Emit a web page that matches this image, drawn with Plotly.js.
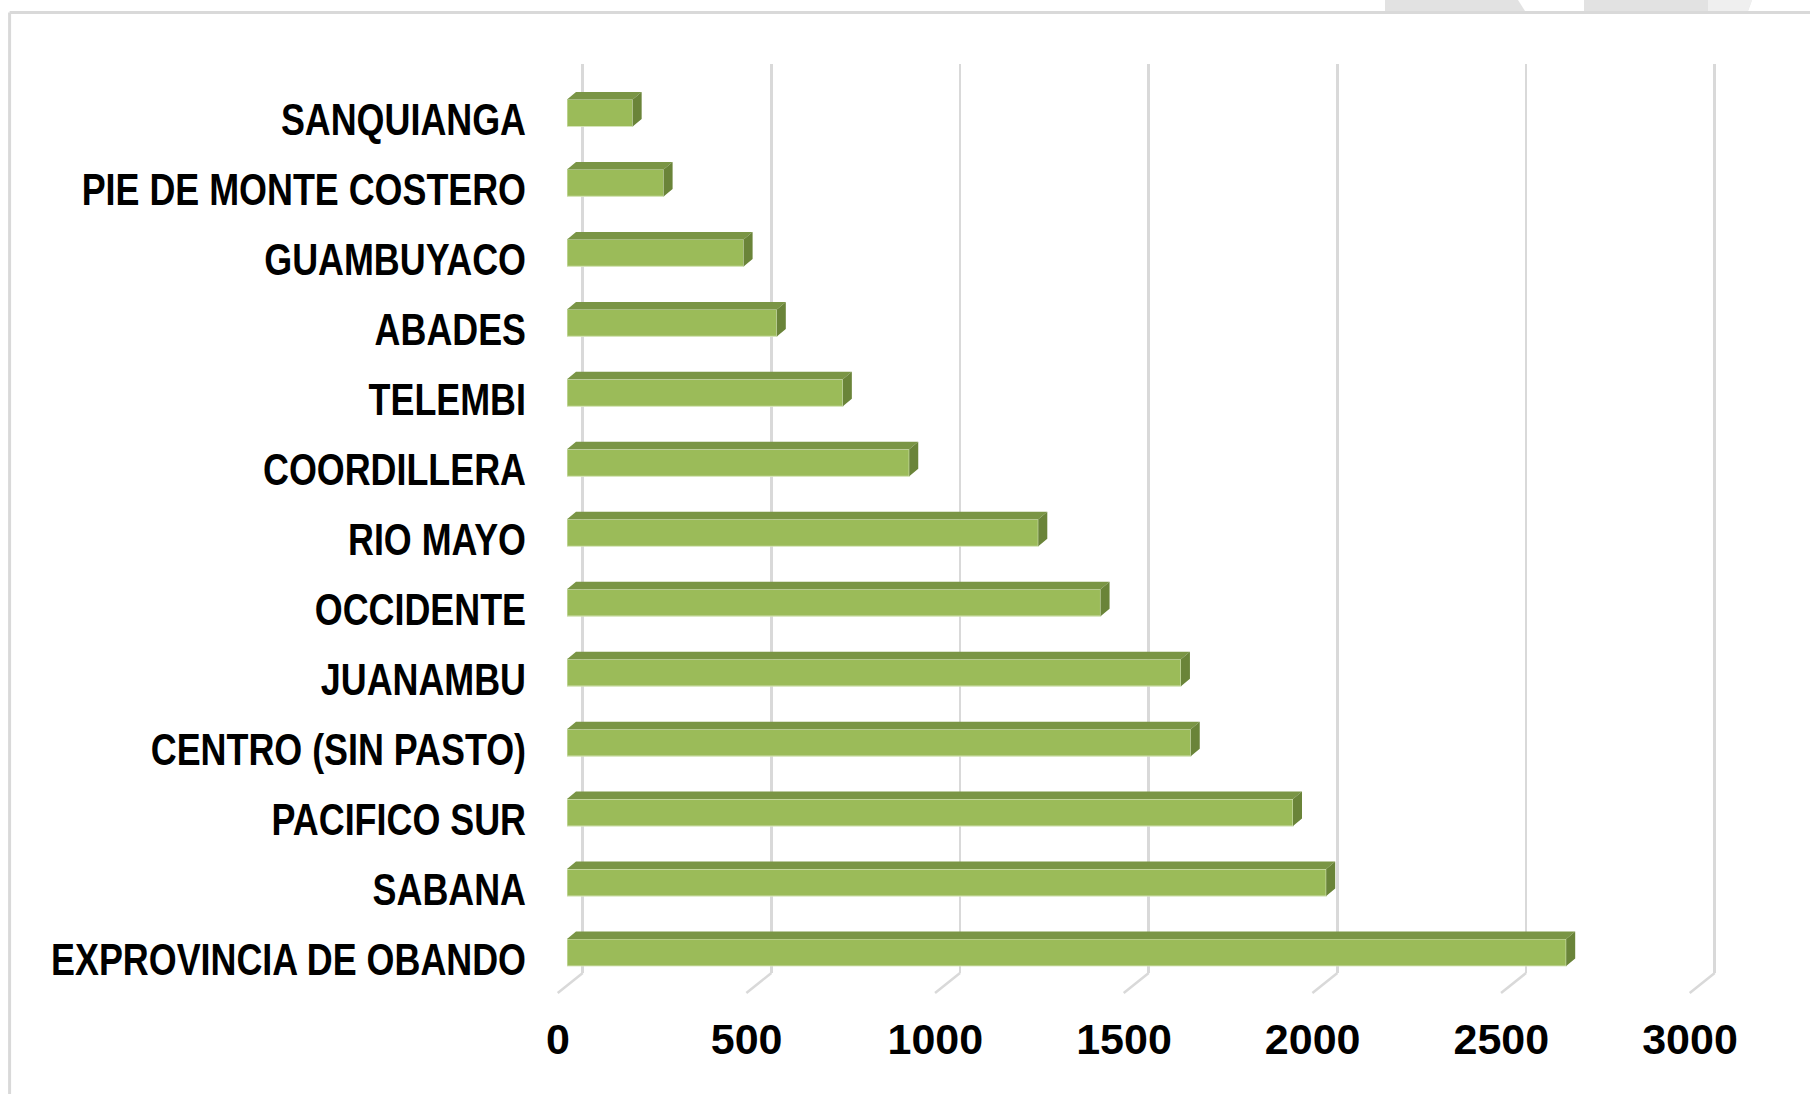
<!DOCTYPE html>
<html>
<head>
<meta charset="utf-8">
<script src="https://cdn.plot.ly/plotly-3.0.1.min.js"></script>
<style>
  html, body { margin: 0; padding: 0; background: #ffffff; }
  #chart { width: 1810px; height: 1094px; }
</style>
</head>
<body>
<div id="chart"></div>
<script>
// ---------- data ----------
const categories = [
  "SANQUIANGA",
  "PIE DE MONTE COSTERO",
  "GUAMBUYACO",
  "ABADES",
  "TELEMBI",
  "COORDILLERA",
  "RIO MAYO",
  "OCCIDENTE",
  "JUANAMBU",
  "CENTRO (SIN PASTO)",
  "PACIFICO SUR",
  "SABANA",
  "EXPROVINCIA DE OBANDO"
];
const values = [174, 256, 468, 556, 731, 907, 1249, 1414, 1627, 1653, 1924, 2012, 2648];
const tickValues = [0, 500, 1000, 1500, 2000, 2500, 3000];
const tickLabels = ["0", "500", "1000", "1500", "2000", "2500", "3000"];

// ---------- geometry / style ----------
const W = 1810, H = 1094;
const fx = p => p / W;
const fy = p => 1 - p / H;
const X_MAX = 3000;
const WALL_PAD = 100;           // extra axis room so edge gridlines / floor lines are not clipped
const PX_PER_UNIT = 0.37734;
const BAR_W = 0.386;            // fraction of category slot
const DEPTH_DX_PX = 9, DEPTH_DY_PX = 7.5;
const SLOT_PX = 69.96;
const dxu = DEPTH_DX_PX / PX_PER_UNIT;
const dyu = DEPTH_DY_PX / SLOT_PX;
const NARROW = 0.815;           // horizontal condensing of category labels

const FRONT = "#9BBB59", TOP = "#7A9545", SIDE = "#6A8439";
const GRID = "#D9D9D9";
const catFont = "'Liberation Sans', Arial, sans-serif";
const numFont = "'Liberation Sans', Arial, sans-serif";

const idx = categories.map((_, i) => i);

// top and side faces of the 3D bars
const topX = [], topY = [], sideX = [], sideY = [];
values.forEach((v, i) => {
  const yt = i - BAR_W / 2, yb = i + BAR_W / 2;
  topX.push(0, v, v + dxu, dxu, 0, null);
  topY.push(yt, yt, yt - dyu, yt - dyu, yt, null);
  sideX.push(v, v + dxu, v + dxu, v, v, null);
  sideY.push(yt, yt - dyu, yb - dyu, yb, yt, null);
});

const traces = [
  // wall subplot (gridlines only)
  { type: "scatter", x: [null], y: [null], xaxis: "x", yaxis: "y", mode: "markers",
    hoverinfo: "skip", showlegend: false },
  // bar front faces
  { type: "bar", orientation: "h", x: values, y: idx, width: BAR_W,
    xaxis: "x2", yaxis: "y2",
    marker: { color: FRONT, line: { color: "rgba(214,228,186,0.9)", width: 1.2 } },
    hoverinfo: "skip", showlegend: false },
  { type: "scatter", x: topX, y: topY, xaxis: "x2", yaxis: "y2", mode: "lines",
    fill: "toself", fillcolor: TOP, line: { width: 0, color: TOP },
    hoverinfo: "skip", showlegend: false },
  { type: "scatter", x: sideX, y: sideY, xaxis: "x2", yaxis: "y2", mode: "lines",
    fill: "toself", fillcolor: SIDE, line: { width: 0, color: SIDE },
    hoverinfo: "skip", showlegend: false }
];

// floor lines (diagonals below the wall gridlines)
const shapes = tickValues.map(t => ({
  type: "line", xref: "x", xsizemode: "pixel", xanchor: t, x0: 0, x1: -25,
  yref: "paper", y0: fy(973), y1: fy(993),
  line: { color: GRID, width: 2.5 }, layer: "below"
}));
// chart frame
shapes.push(
  { type: "line", xref: "paper", yref: "paper", x0: fx(9.6), x1: 1, y0: fy(12.6), y1: fy(12.6),
    line: { color: "#D9D9D9", width: 3 } },
  { type: "line", xref: "paper", yref: "paper", x0: fx(9.6), x1: fx(9.6), y0: fy(12.6), y1: 0,
    line: { color: "#D9D9D9", width: 3 } }
);
// remnants of neighbouring objects above the frame
shapes.push(
  { type: "path", xref: "paper", yref: "paper",
    path: `M ${fx(1385)} ${fy(0)} L ${fx(1518)} ${fy(0)} L ${fx(1525)} ${fy(11)} L ${fx(1385)} ${fy(11)} Z`,
    fillcolor: "#E2E2E2", line: { width: 0 } },
  { type: "path", xref: "paper", yref: "paper",
    path: `M ${fx(1584)} ${fy(0)} L ${fx(1752)} ${fy(0)} L ${fx(1748)} ${fy(11)} L ${fx(1584)} ${fy(11)} Z`,
    fillcolor: "#E2E2E2", line: { width: 0 } },
  { type: "path", xref: "paper", yref: "paper",
    path: `M ${fx(1708)} ${fy(0)} L ${fx(1752)} ${fy(0)} L ${fx(1748)} ${fy(11)} L ${fx(1708)} ${fy(11)} Z`,
    fillcolor: "#EFEFEF", line: { width: 0 } }
);

const WALL0 = 582.7;
const layout = {
  width: W, height: H,
  margin: { l: 0, r: 0, t: 0, b: 0, pad: 0 },
  paper_bgcolor: "#ffffff",
  plot_bgcolor: "rgba(0,0,0,0)",
  showlegend: false,
  hovermode: false,
  bargap: 0,
  // back wall with gridlines
  xaxis: {
    domain: [fx(WALL0 - WALL_PAD * PX_PER_UNIT), fx(WALL0 + (X_MAX + WALL_PAD) * PX_PER_UNIT)],
    range: [-WALL_PAD, X_MAX + WALL_PAD], anchor: "y",
    tickmode: "array", tickvals: tickValues,
    showgrid: true, gridcolor: GRID, gridwidth: 2.5,
    showticklabels: false, ticks: "", zeroline: false, showline: false, fixedrange: true
  },
  yaxis: {
    domain: [fy(973), fy(64)], range: [0, 1], anchor: "x",
    showgrid: false, showticklabels: false, ticks: "", zeroline: false, showline: false, fixedrange: true
  },
  // bar front plane
  xaxis2: {
    domain: [fx(567), fx(567 + X_MAX * PX_PER_UNIT)],
    range: [0, X_MAX], anchor: "y2",
    tickmode: "array", tickvals: tickValues, ticktext: tickLabels,
    showgrid: false, zeroline: false, showline: false, ticks: "",
    ticklabelshift: -9, ticklabelstandoff: 22,
    tickfont: { family: numFont, size: 43, color: "#000000", weight: "bold" },
    fixedrange: true
  },
  yaxis2: {
    domain: [fy(113 + 12 * SLOT_PX + SLOT_PX / 2), fy(113 - SLOT_PX / 2)],
    range: [categories.length - 0.5, -0.5], anchor: "x2",
    tickmode: "array", tickvals: idx, ticktext: categories,
    showgrid: false, zeroline: false, showline: false, ticks: "",
    ticklabelstandoff: 40, ticklabelshift: -7,
    tickfont: { family: catFont, size: 44, color: "#000000", weight: "bold" },
    fixedrange: true
  },
  shapes: shapes
};

Plotly.newPlot("chart", traces, layout, { displayModeBar: false, staticPlot: true }).then(gd => {
  // condense the category labels horizontally (narrow bold face)
  gd.querySelectorAll("g.y2tick text").forEach(t => {
    const len = t.getComputedTextLength();
    t.setAttribute("textLength", (len * NARROW).toFixed(1));
    t.setAttribute("lengthAdjust", "spacingAndGlyphs");
  });
});
</script>
</body>
</html>
